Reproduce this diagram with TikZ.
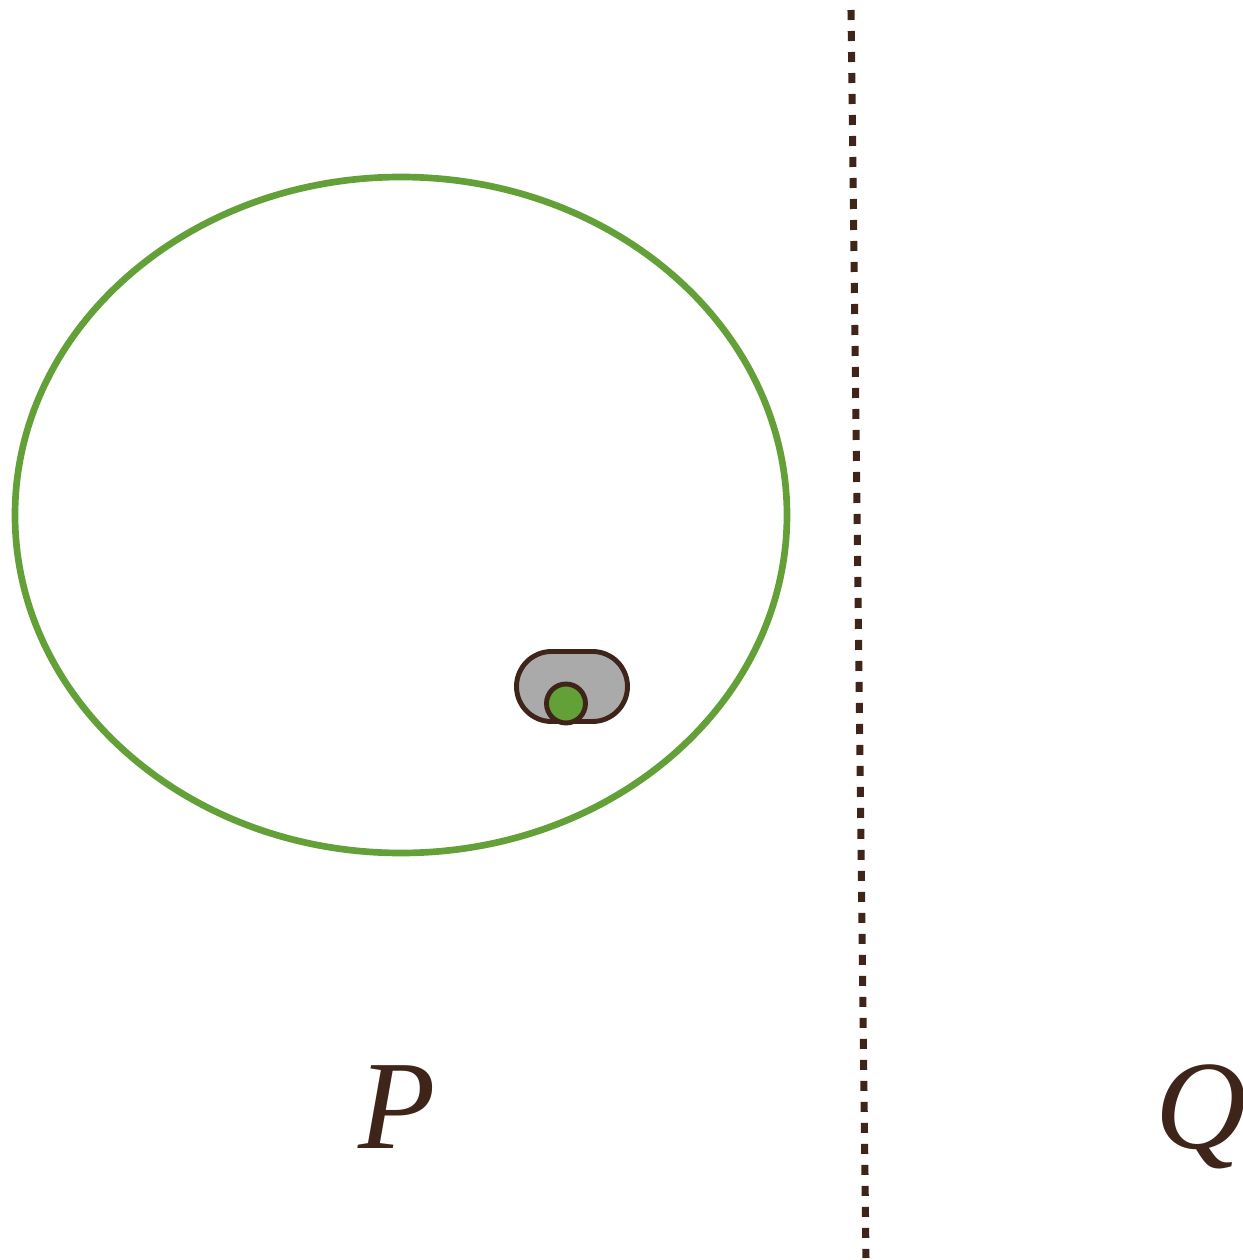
\documentclass[tikz,border=0pt]{standalone}
\usepackage{fontspec}
\setmainfont{Liberation Serif}
\usepackage{xcolor}
\usetikzlibrary{positioning, calc}

\definecolor{leafgreen}{HTML}{63A038}
\definecolor{darkbrown}{HTML}{3F2419}
\definecolor{cellgray}{HTML}{AAAAAA}

\tikzset{
    cellbox/.style={draw=darkbrown, fill=cellgray, line width=1.4pt,
        minimum width=1.11cm, minimum height=0.70cm, rounded corners=0.35cm, inner sep=0pt},
    dotlabel/.style={text=darkbrown, font=\fontsize{36}{40}\selectfont\itshape, inner sep=0pt}
}

\begin{document}
\begin{tikzpicture}
    \useasboundingbox (0, 0) rectangle (12.43, 12.60);

    % 区域 P
    \draw[leafgreen, line width=1.9pt] (4.01, 7.45) ellipse (3.86 and 3.38);

    % 小细胞
    \node[cellbox] (cell) at (5.72, 5.735) {};
    \fill[leafgreen, draw=darkbrown, line width=1.4pt] (5.66, 5.565) circle (0.195);

    % 分界线
    \coordinate (top) at (8.51, 12.50);
    \coordinate (bottom) at (8.66, 0.02);
    \draw[darkbrown, line width=2pt, dash pattern=on 0.1cm off 0.11cm] (top) -- (bottom);

    % 标签
    \node[dotlabel, anchor=base] (labP) at (3.97, 1.12) {P};
    \node[dotlabel, anchor=base west] (labQ) at (11.55, 1.12) {Q};
\end{tikzpicture}
\end{document}
